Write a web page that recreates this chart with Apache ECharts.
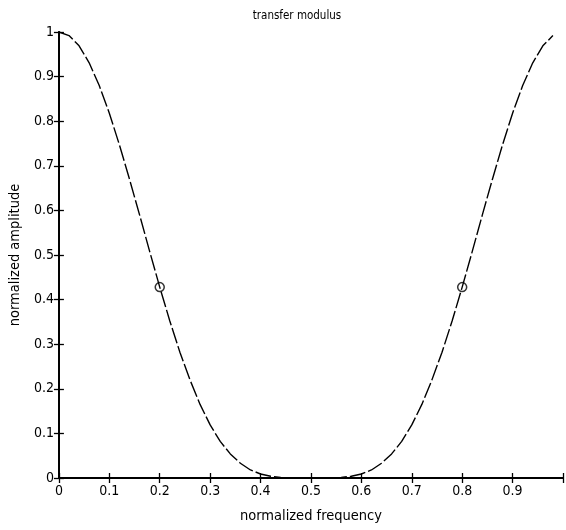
<!DOCTYPE html>
<html><head><meta charset="utf-8">
<script src="https://cdn.jsdelivr.net/npm/echarts@6/dist/echarts.min.js"></script>
<style>html,body{margin:0;padding:0;background:#fff}#c{width:566px;height:530px}</style>
</head><body><div id="c"></div>
<script>
const frequency = [0,0.02,0.04,0.06,0.08,0.10,0.12,0.14,0.16,0.18,0.20,0.22,0.24,0.26,0.28,0.30,0.32,0.34,0.36,0.38,0.40,0.42,0.44,0.46,0.48,0.50,0.52,0.54,0.56,0.58,0.60,0.62,0.64,0.66,0.68,0.70,0.72,0.74,0.76,0.78,0.80,0.82,0.84,0.86,0.88,0.90,0.92,0.94,0.96,0.98];
const amplitude = [1,0.992,0.969,0.931,0.880,0.818,0.747,0.670,0.590,0.508,0.428,0.352,0.282,0.220,0.165,0.119,0.082,0.054,0.033,0.018,0.009,0.004,0.001,0,0,0,0,0,0.001,0.004,0.009,0.018,0.033,0.054,0.082,0.119,0.165,0.220,0.282,0.352,0.428,0.508,0.590,0.670,0.747,0.818,0.880,0.931,0.969,0.992];
const markerX = [0.2, 0.8];
const markerY = [0.428, 0.428];
const xTickLabels = ['0','0.1','0.2','0.3','0.4','0.5','0.6','0.7','0.8','0.9'];
const yTickLabels = ['0','0.1','0.2','0.3','0.4','0.5','0.6','0.7','0.8','0.9','1'];

const font = "'DejaVu Sans Condensed','Liberation Sans Narrow','Liberation Sans',Arial,sans-serif";
const chart = echarts.init(document.getElementById('c'));
const axisLine = {show:true, lineStyle:{color:'#000', width:1.8}};
const tick = {show:true, inside:true, length:5, lineStyle:{color:'#000', width:1.3}};
chart.setOption({
  animation:false,
  title:{text:'transfer modulus', left:292, top:5, textAlign:'center',
    textStyle:{fontFamily:font, fontSize:11.5, fontWeight:'normal', color:'#000'}},
  grid:{left:57, right:0, top:32, bottom:52},
  xAxis:[{type:'value', min:0, max:1, interval:0.1, position:'bottom',
    name:'normalized frequency', nameLocation:'middle', nameGap:31,
    nameTextStyle:{fontFamily:font, fontSize:14.5, color:'#000'},
    axisLine, axisTick:tick, splitLine:{show:false},
    axisLabel:{fontFamily:font, fontSize:14, color:'#000', margin:6,
      formatter:v=>{const i=Math.round(v*10);return i<xTickLabels.length?xTickLabels[i]:'';}}},
   {type:'value', min:0, max:1, interval:0.1, position:'top',
    axisLine, axisTick:tick, axisLabel:{show:false}, splitLine:{show:false}}],
  yAxis:[{type:'value', min:0, max:1, interval:0.1, position:'left',
    name:'normalized amplitude', nameLocation:'middle', nameGap:32,
    nameTextStyle:{fontFamily:font, fontSize:14.5, color:'#000'},
    axisLine, axisTick:tick, splitLine:{show:false},
    axisLabel:{fontFamily:font, fontSize:14, color:'#000', margin:5,
      formatter:v=>yTickLabels[Math.round(v*10)]}},
   {type:'value', min:0, max:1, interval:0.1, position:'right',
    axisLine, axisTick:tick, axisLabel:{show:false}, splitLine:{show:false}}],
  series:[
    {type:'line', data:frequency.map((x,i)=>[x,amplitude[i]]), showSymbol:false, z:2,
     lineStyle:{color:'#000', width:1.4, type:[16,3]}, smooth:false},
    {type:'scatter', data:markerX.map((x,i)=>[x,markerY[i]]), symbol:'circle', symbolSize:9, z:5,
     itemStyle:{color:'rgba(255,255,255,0)', borderColor:'#000', borderWidth:1.5}}
  ]
});
</script></body></html>
